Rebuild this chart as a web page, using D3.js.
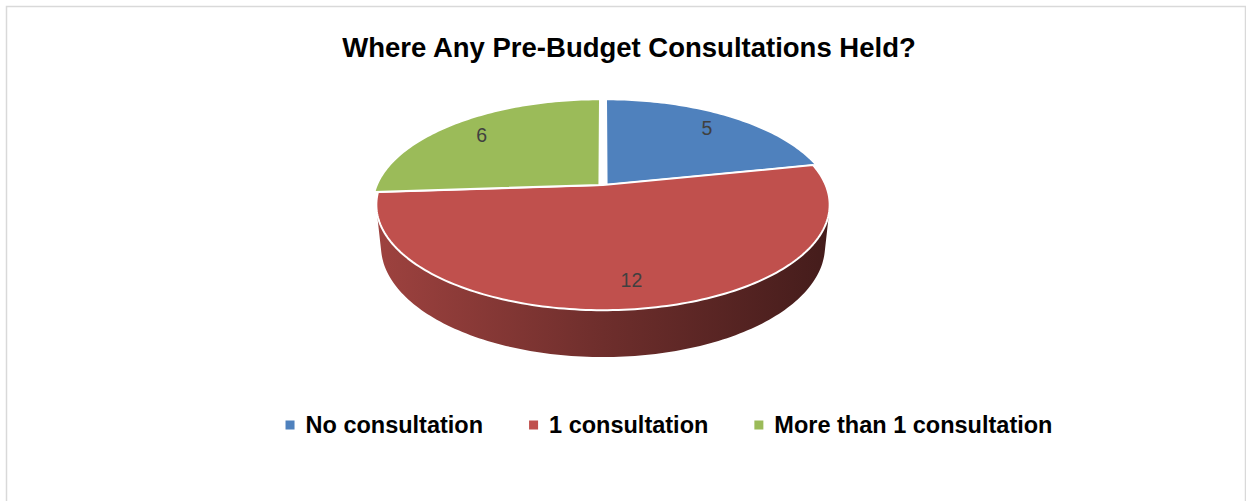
<!DOCTYPE html>
<html>
<head>
<meta charset="utf-8">
<script src="https://cdn.jsdelivr.net/npm/d3@7"></script>
<style>
  body { margin: 0; background: #fff; }
  svg { display: block; }
</style>
</head>
<body>
<div id="chart"></div>
<script>
"use strict";

// chart data
var title = "Where Any Pre-Budget Consultations Held?";
var categories = ["No consultation", "1 consultation", "More than 1 consultation"];
var values = [5, 12, 6];
var colors = ["#4f81bd", "#c0504d", "#9bbb59"];

var W = 1246, H = 501;

// 3d view settings (camera tilt, distance, focal length, screen centre)
var phi = 27.2 * Math.PI / 180;
var D = 4.756, f = 1059, cx = 603, cy = 185;
var thick = 0.21;      // pie height in radius units
var labelR = 0.8;
var explode = [0.016, 0, -0.016];   // small sideways shift, gives the white gap at the top

var sP = Math.sin(phi), cP = Math.cos(phi);

// world (x right, y up, z toward viewer) -> screen
function project(x, y, z) {
  var d = D - (y * sP + z * cP);
  return [cx + f * x / d, cy - f * (y * cP - z * sP) / d];
}
// point on the rim at angle a (clockwise from the back)
function rim(a, r, y, dx) {
  return project(r * Math.sin(a) + (dx || 0), y, -r * Math.cos(a));
}
function arcPts(a0, a1, r, y, dx) {
  var n = Math.max(2, Math.ceil(Math.abs(a1 - a0) / 0.02));
  var pts = [];
  for (var i = 0; i <= n; i++) pts.push(rim(a0 + (a1 - a0) * i / n, r, y, dx));
  return pts;
}

var svg = d3.select("#chart").append("svg")
  .attr("width", W)
  .attr("height", H);

// chart border
svg.append("rect")
  .attr("x", 6.5).attr("y", 6.5)
  .attr("width", 1239).attr("height", 500)
  .attr("fill", "#fff")
  .attr("stroke", "#d9d9d9")
  .attr("stroke-width", 1.5);

// title
svg.append("text")
  .attr("x", 629).attr("y", 57)
  .attr("text-anchor", "middle")
  .style("font-family", "'Liberation Sans', Arial, sans-serif")
  .style("font-weight", "bold")
  .style("font-size", "27.5px")
  .attr("fill", "#000")
  .text(title);

var pie = d3.pie().sort(null).value(function(d) { return d; });
var arcs = pie(values);

var line = d3.line();

// the side wall is visible only where its normal faces the camera
var visLimit = Math.acos(-1 / (D * cP));   // about 104 deg
var visA = visLimit, visB = 2 * Math.PI - visLimit;

var defs = svg.append("defs");
var xl = project(-1, 0, 0)[0] - 5, xr = project(1, 0, 0)[0] + 5;

var walls = svg.append("g").attr("id", "walls");
arcs.forEach(function(a, i) {
  var a0 = Math.max(a.startAngle, visA), a1 = Math.min(a.endAngle, visB);
  if (a1 <= a0) return;
  var base = d3.color(colors[i]);
  var grad = defs.append("linearGradient")
    .attr("id", "side" + i)
    .attr("gradientUnits", "userSpaceOnUse")
    .attr("x1", xl).attr("x2", xr).attr("y1", 0).attr("y2", 0);
  grad.append("stop").attr("offset", 0).attr("stop-color", base.darker(0.55));
  grad.append("stop").attr("offset", 0.5).attr("stop-color", base.darker(1.55));
  grad.append("stop").attr("offset", 1).attr("stop-color", base.darker(2.9));
  var top = arcPts(a0, a1, 1, 0, explode[i]);
  var bot = arcPts(a1, a0, 1, -thick, explode[i]);
  walls.append("path")
    .attr("d", line(top.concat(bot)) + "Z")
    .attr("fill", "url(#side" + i + ")");
});

// top faces
var tops = svg.append("g").attr("id", "tops");
arcs.forEach(function(a, i) {
  var pts = [project(explode[i], 0, 0)].concat(arcPts(a.startAngle, a.endAngle, 1, 0, explode[i]));
  tops.append("path")
    .attr("d", line(pts) + "Z")
    .attr("fill", colors[i])
    .attr("stroke", "#fff")
    .attr("stroke-width", 2)
    .attr("stroke-linejoin", "round");
});

// data labels
svg.append("g").selectAll("text").data(arcs)
  .join("text")
    .attr("x", function(a, i) { return rim((a.startAngle + a.endAngle) / 2, labelR, 0, explode[i])[0]; })
    .attr("y", function(a, i) { return rim((a.startAngle + a.endAngle) / 2, labelR, 0, explode[i])[1]; })
    .attr("text-anchor", "middle")
    .attr("dominant-baseline", "central")
    .style("font-family", "'Liberation Sans', Arial, sans-serif")
    .style("font-size", "19.5px")
    .attr("fill", "#404040")
    .text(function(a) { return a.data; });

// legend
var legend = svg.append("g").attr("id", "legend");
var items = legend.selectAll("g").data(categories)
  .join("g");
items.append("rect")
  .attr("width", 9).attr("height", 9)
  .attr("y", 420.5)
  .attr("fill", function(d, i) { return colors[i]; });
items.append("text")
  .attr("y", 433)
  .style("font-family", "'Liberation Sans', Arial, sans-serif")
  .style("font-weight", "bold")
  .style("font-size", "23.5px")
  .attr("fill", "#000")
  .text(function(d) { return d; });

var widths = [];
items.select("text").each(function() { widths.push(this.getComputedTextLength()); });
var gap = 46, txtOff = 20;
var total = d3.sum(widths) + widths.length * txtOff + (widths.length - 1) * gap;
var pos = 669 - total / 2;
items.each(function(d, i) {
  d3.select(this).attr("transform", "translate(" + pos + ",0)");
  d3.select(this).select("text").attr("x", txtOff);
  pos += txtOff + widths[i] + gap;
});
</script>
</body>
</html>
